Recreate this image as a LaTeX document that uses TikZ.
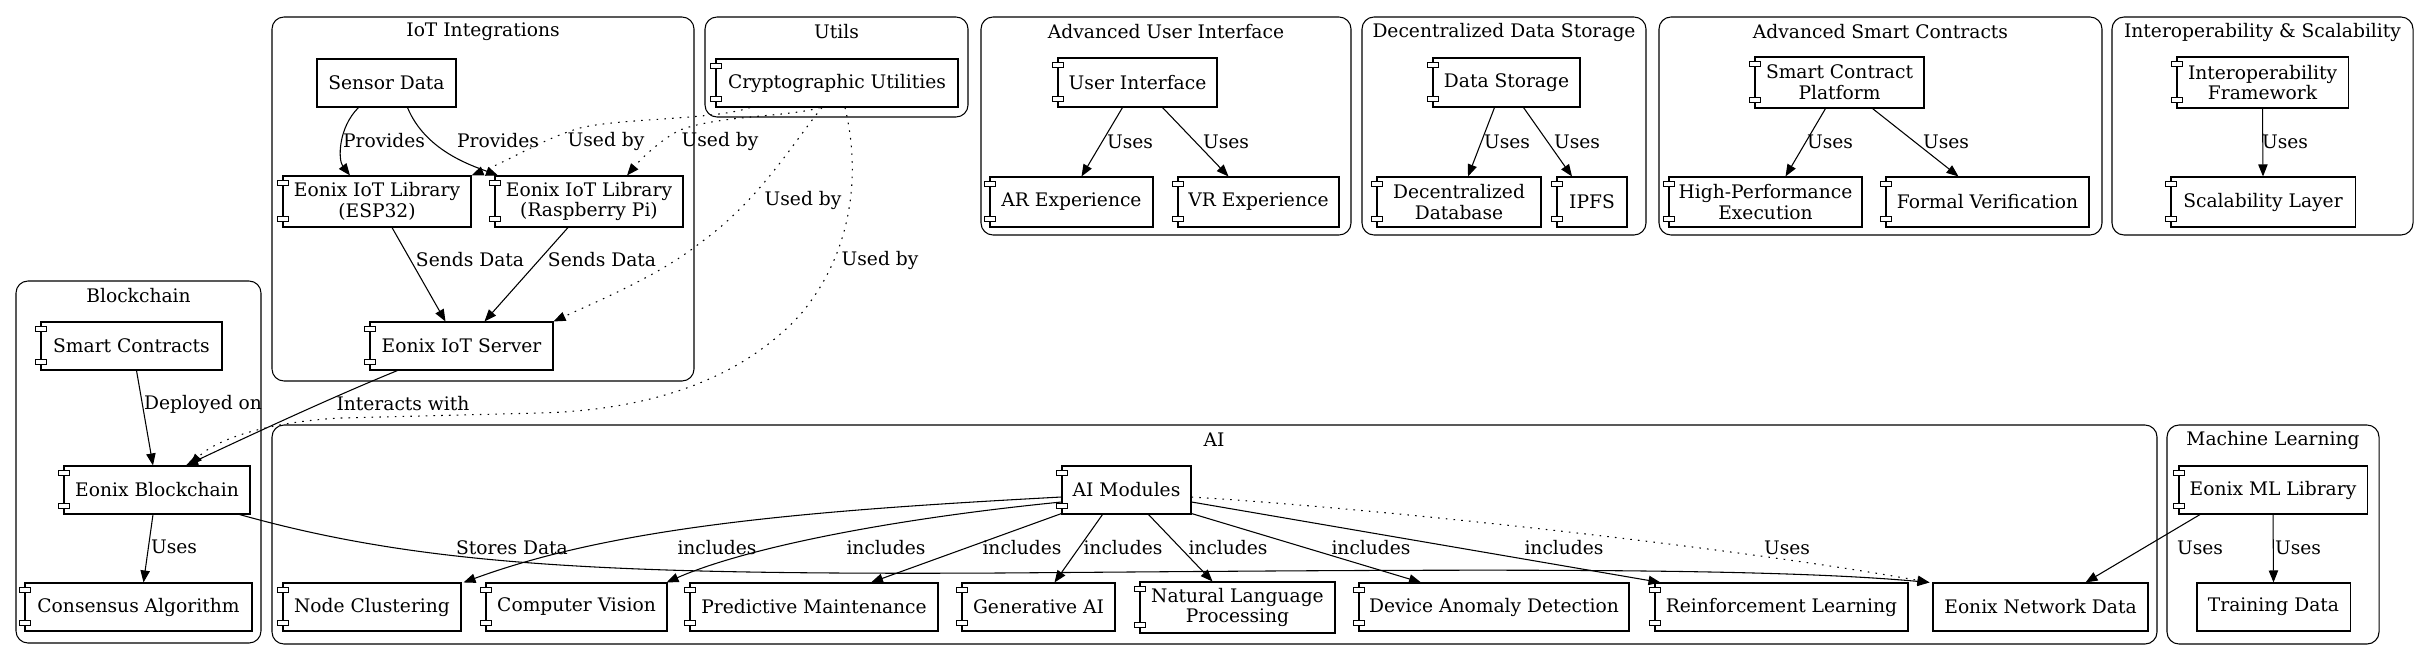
\documentclass[tikz,border=0pt]{standalone}
\usepackage{fontspec}
\setmainfont{DejaVu Serif}
\usetikzlibrary{arrows.meta,calc}
\tikzset{
  gfont/.style={font=\fontsize{14}{15.5}\selectfont},
  nbox/.style={draw, line width=0.8pt, fill=white, inner sep=0pt, align=center, gfont},
  tabbox/.style={draw, line width=0.6pt, fill=white},
  cluster/.style={draw, line width=0.8pt, rounded corners=9pt},
  clabel/.style={gfont, inner sep=0pt},
  edge/.style={line width=0.8pt, -{Triangle[length=9pt,width=7pt]}},
  dedge/.style={edge, dash pattern=on 1.2pt off 4.6pt},
  lbl/.style={gfont, inner sep=0pt},
}
\newcommand{\gbox}[7]{%
  \pgfmathsetmacro{\gbcx}{(#3+#5)/2}%
  \pgfmathsetmacro{\gbcy}{(#4+#6)/2}%
  \pgfmathsetmacro{\gbw}{(#5-#3)*0.75}%
  \pgfmathsetmacro{\gbh}{(#6-#4)*0.75}%
  \node[#1, minimum width=\gbw pt, minimum height=\gbh pt] (#2) at (\gbcx,\gbcy) {#7};}
\newcommand{\gcomp}[6]{%
  \gbox{nbox}{#1}{#2}{#3}{#4}{#5}{#6}%
  \draw[tabbox] ($(#1.north west)+(-5,5)$) rectangle ($(#1.north west)+(6,10)$);
  \draw[tabbox] ($(#1.south west)+(-5,-11)$) rectangle ($(#1.south west)+(6,-6)$);}
\begin{document}
\begin{tikzpicture}[x=0.75pt,y=-0.75pt]
\useasboundingbox (0,0) rectangle (2429,660);
% clusters
\draw[cluster] (272,17) rectangle (694,381);   \node[clabel] (lIoT) at (483,32) {IoT Integrations};
\draw[cluster] (705,17) rectangle (968,117);   \node[clabel] (lUtils) at (836.5,32) {Utils};
\draw[cluster] (981,17) rectangle (1351,235);  \node[clabel] (lAUI) at (1166,32) {Advanced User Interface};
\draw[cluster] (1362,17) rectangle (1646,235); \node[clabel] (lDDS) at (1504,32) {Decentralized Data Storage};
\draw[cluster] (1659,17) rectangle (2102,235); \node[clabel] (lASC) at (1880.5,32) {Advanced Smart Contracts};
\draw[cluster] (2112,17) rectangle (2413,235); \node[clabel] (lIS) at (2262.5,32) {Interoperability \& Scalability};
\draw[cluster] (16,281) rectangle (261,643);   \node[clabel] (lBC) at (138.5,296) {Blockchain};
\draw[cluster] (272,425) rectangle (2157,644); \node[clabel] (lAI) at (1214,440) {AI};
\draw[cluster] (2167,425) rectangle (2379,644);\node[clabel] (lML) at (2273,440) {Machine Learning};

% nodes
\gbox{nbox}{sensor}{317}{59}{456}{107}{Sensor Data}
\gcomp{crypto}{716}{59}{958}{107}{Cryptographic Utilities}
\gcomp{esp}{283}{176}{471}{227}{Eonix IoT Library\\(ESP32)}
\gcomp{rpi}{495}{176}{683}{227}{Eonix IoT Library\\(Raspberry Pi)}
\gcomp{server}{370}{322}{553}{370}{Eonix IoT Server}
\gcomp{ui}{1058}{58}{1217}{107}{User Interface}
\gcomp{ar}{990}{177}{1153}{227}{AR Experience}
\gcomp{vr}{1178}{177}{1339}{227}{VR Experience}
\gcomp{ds}{1433}{58}{1580}{107}{Data Storage}
\gcomp{dd}{1377}{177}{1541}{227}{Decentralized\\Database}
\gcomp{ipfs}{1557}{177}{1627}{227}{IPFS}
\gcomp{scp}{1755}{57}{1924}{108}{Smart Contract\\Platform}
\gcomp{hpe}{1669}{177}{1862}{227}{High-Performance\\Execution}
\gcomp{fv}{1886}{177}{2089}{227}{Formal Verification}
\gcomp{ifw}{2177}{57}{2348}{108}{Interoperability\\Framework}
\gcomp{sl}{2171}{177}{2355}{227}{Scalability Layer}
\gcomp{sc}{41}{322}{222}{370}{Smart Contracts}
\gcomp{eb}{64}{466}{250}{514}{Eonix Blockchain}
\gcomp{cons}{25}{583}{252}{631}{Consensus Algorithm}
\gcomp{aim}{1062}{466}{1191}{514}{AI Modules}
\gcomp{nc}{283}{583}{461}{631}{Node Clustering}
\gcomp{cv}{486}{583}{667}{631}{Computer Vision}
\gcomp{pm}{690}{583}{938}{631}{Predictive Maintenance}
\gcomp{gen}{962}{583}{1115}{631}{Generative AI}
\gcomp{nlp}{1140}{582}{1335}{633}{Natural Language\\Processing}
\gcomp{dad}{1359}{583}{1629}{631}{Device Anomaly Detection}
\gcomp{rl}{1655}{583}{1908}{631}{Reinforcement Learning}
\gbox{nbox}{end}{1933}{583}{2148}{631}{Eonix Network Data}
\gcomp{mll}{2179}{466}{2367}{514}{Eonix ML Library}
\gbox{nbox}{td}{2197}{583}{2350}{631}{Training Data}

% IoT edges
\draw[edge] ($(sensor.south)+(-28,0)$) .. controls (338,128) and (338,160) .. ($(esp.north)+(-27,0)$)
  node[lbl] at (384,141) {Provides};
\draw[edge] ($(sensor.south)+(21,0)$) .. controls (425,150) and (470,165) .. ($(rpi.north)+(-91,0)$)
  node[lbl] at (498,141) {Provides};
\draw[edge] ($(esp.south)+(15,0)$) -- ($(server.north)+(-16,0)$) node[lbl] at (470,260) {Sends Data};
\draw[edge] ($(rpi.south)+(-21,0)$) -- ($(server.north)+(23,0)$) node[lbl] at (602,260) {Sends Data};
% crypto dotted edges
\draw[dedge] ($(crypto.south)+(-87,0)$) .. controls (715,120) and (620,118) .. (580,128)
  .. controls (545,138) and (510,160) .. (esp.north east) node[lbl] at (606,141) {Used by};
\draw[dedge] ($(crypto.south)+(-17,0)$) .. controls (790,117) and (720,115) .. (680,130)
  .. controls (660,140) and (640,160) .. ($(rpi.north)+(38,0)$) node[lbl] at (720,141) {Used by};
\draw[dedge] ($(crypto.south)+(-15,0)$) .. controls (795,140) and (760,200) .. (700,243)
  .. controls (660,275) and (600,300) .. (server.north east) node[lbl] at (803,200) {Used by};
\draw[dedge] ($(crypto.south)+(8,0)$) .. controls (860,170) and (855,250) .. (800,315)
  .. controls (740,380) and (650,410) .. (540,413) -- (341,418)
  .. controls (265,422) and (215,440) .. ($(eb.north)+(33,0)$) node[lbl] at (880,260) {Used by};
% blockchain edges
\draw[edge] ($(sc.south)+(5,0)$) -- ($(eb.north)+(-4,0)$) node[lbl] at (203,404) {Deployed on};
\draw[edge] ($(server.south)+(-64,0)$) .. controls (330,398) and (240,440) .. ($(eb.north)+(29,0)$)
  node[lbl] at (403,404) {Interacts with};
\draw[edge] ($(eb.south)+(-4,0)$) -- ($(cons.north)+(5,0)$) node[lbl] at (174,547) {Uses};
\draw[edge] ($(eb.south east)+(-11,0)$) .. controls (420,565) and (600,575) .. (1000,573)
  .. controls (1400,570) and (1750,566) .. ($(end.north west)+(-3,0)$) node[lbl] at (512,548) {Stores Data};
% AI edges
\draw[edge] ($(aim.west)+(0,7)$) .. controls (820,510) and (620,525) .. ($(nc.north east)+(2,0)$)
  node[lbl] at (717,548) {includes};
\draw[edge] ($(aim.west)+(0,12)$) .. controls (880,520) and (740,550) .. ($(cv.north east)+(-1,0)$)
  node[lbl] at (886,548) {includes};
\draw[edge] ($(aim.south west)+(0,-1)$) -- ($(pm.north)+(57,0)$) node[lbl] at (1022,548) {includes};
\draw[edge] ($(aim.south)+(-24,0)$) -- ($(gen.north)+(16,0)$) node[lbl] at (1123,548) {includes};
\draw[edge] ($(aim.south)+(22,0)$) -- ($(nlp.north)+(-25,0)$) node[lbl] at (1228,548) {includes};
\draw[edge] ($(aim.south east)+(0,-1)$) -- ($(dad.north)+(-73,0)$) node[lbl] at (1371,548) {includes};
\draw[edge] ($(aim.east)+(0,12)$) -- ($(rl.north west)+(6,0)$) node[lbl] at (1564,548) {includes};
\draw[dedge] ($(aim.east)+(0,7)$) .. controls (1400,510) and (1750,550) .. ($(end.north west)+(-3,0)$)
  node[lbl] at (1787,548) {Uses};
% ML edges
\draw[edge] ($(mll.south)+(-73,0)$) -- ($(end.north)+(45,0)$) node[lbl] at (2200,548) {Uses};
\draw[edge] (mll.south) -- (td.north) node[lbl] at (2298,548) {Uses};
% top row edges
\draw[edge] ($(ui.south)+(-15,0)$) -- ($(ar.north)+(10,0)$) node[lbl] at (1130,142) {Uses};
\draw[edge] ($(ui.south)+(25,0)$) -- ($(vr.north)+(-30,0)$) node[lbl] at (1226,142) {Uses};
\draw[edge] ($(ds.south)+(-12,0)$) -- ($(dd.north)+(9,0)$) node[lbl] at (1507,142) {Uses};
\draw[edge] ($(ds.south)+(17,0)$) -- ($(ipfs.north)+(-20,0)$) node[lbl] at (1577,142) {Uses};
\draw[edge] ($(scp.south)+(-14,0)$) -- ($(hpe.north)+(20,0)$) node[lbl] at (1830,142) {Uses};
\draw[edge] ($(scp.south)+(33,0)$) -- ($(fv.north)+(-29,0)$) node[lbl] at (1946,142) {Uses};
\draw[edge] (ifw.south) -- (sl.north) node[lbl] at (2285,142) {Uses};
\end{tikzpicture}
\end{document}
